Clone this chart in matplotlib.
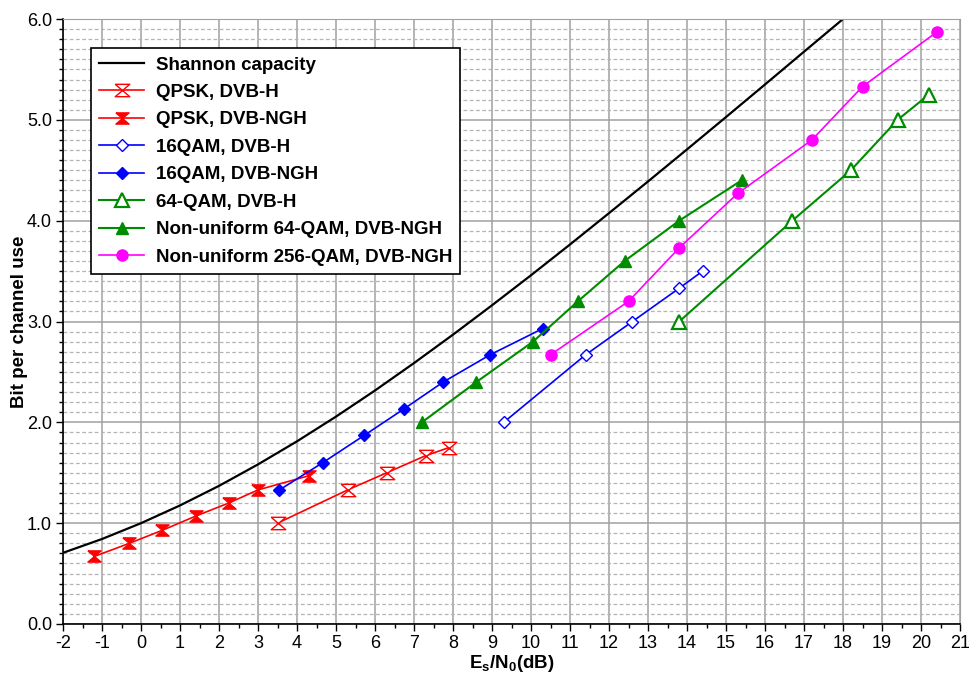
import numpy as np
import matplotlib
matplotlib.use('Agg')
import matplotlib.pyplot as plt
from matplotlib.ticker import MultipleLocator

plt.rcParams['font.family'] = ['Liberation Sans', 'DejaVu Sans']
plt.rcParams['mathtext.fontset'] = 'custom'
plt.rcParams['mathtext.rm'] = 'Liberation Sans'
plt.rcParams['mathtext.bf'] = 'Liberation Sans:bold'
plt.rcParams['axes.unicode_minus'] = False

# Shannon capacity, bit per channel use vs Es/N0 (dB)
shannon_snr = [-2, -1, 0, 1, 2, 3, 4, 5, 6, 7, 8, 9, 10, 11, 12, 13, 14, 15, 16, 17, 18]
shannon_cap = [0.706, 0.843, 1.0, 1.176, 1.370, 1.583, 1.812, 2.057, 2.316, 2.588,
               2.870, 3.161, 3.459, 3.764, 4.075, 4.389, 4.707, 5.028, 5.351, 5.676, 6.0]

qpsk_h_snr = [3.5, 5.3, 6.3, 7.3, 7.9]
qpsk_h_cap = [1.0, 1.33, 1.5, 1.67, 1.75]

qpsk_ngh_snr = [-1.2, -0.3, 0.55, 1.4, 2.25, 3.0, 4.3]
qpsk_ngh_cap = [0.67, 0.80, 0.93, 1.07, 1.20, 1.33, 1.47]

qam16_h_snr = [9.3, 11.4, 12.6, 13.8, 14.4]
qam16_h_cap = [2.0, 2.67, 3.0, 3.33, 3.5]

qam16_ngh_snr = [3.55, 4.66, 5.72, 6.73, 7.75, 8.95, 10.3]
qam16_ngh_cap = [1.33, 1.6, 1.87, 2.13, 2.4, 2.67, 2.93]

qam64_h_snr = [13.8, 16.7, 18.2, 19.4, 20.2]
qam64_h_cap = [3.0, 4.0, 4.5, 5.0, 5.25]

nuqam64_ngh_snr = [7.2, 8.6, 10.05, 11.2, 12.4, 13.8, 15.4]
nuqam64_ngh_cap = [2.0, 2.4, 2.8, 3.2, 3.6, 4.0, 4.4]

nuqam256_ngh_snr = [10.5, 12.5, 13.8, 15.3, 17.2, 18.5, 20.4]
nuqam256_ngh_cap = [2.67, 3.2, 3.73, 4.27, 4.8, 5.33, 5.87]

# hourglass marker: two triangles meeting at the centre
hourglass = [(-1, 0.85), (1, 0.85), (-1, -0.85), (1, -0.85), (-1, 0.85)]

red = '#ff0000'
blue = '#0000ff'
green = '#008c00'
magenta = '#ff00ff'

fig = plt.figure(figsize=(9.70, 6.77), dpi=100)
ax = fig.add_axes([0.065, 0.0783, 0.9247, 0.8936])

ax.plot(shannon_snr, shannon_cap, color='black', lw=1.6, label='Shannon capacity')
ax.plot(qpsk_h_snr, qpsk_h_cap, color=red, lw=1.2, marker=hourglass, ms=10.5,
        mfc='white', mec=red, mew=1.0, label='QPSK, DVB-H')
ax.plot(qpsk_ngh_snr, qpsk_ngh_cap, color=red, lw=1.2, marker=hourglass, ms=9.5,
        mfc=red, mec=red, label='QPSK, DVB-NGH')
ax.plot(qam16_h_snr, qam16_h_cap, color=blue, lw=1.2, marker='D', ms=6,
        mfc='white', mec=blue, mew=1.0, label='16QAM, DVB-H')
ax.plot(qam16_ngh_snr, qam16_ngh_cap, color=blue, lw=1.2, marker='D', ms=6.5,
        mfc=blue, mec=blue, label='16QAM, DVB-NGH')
ax.plot(qam64_h_snr, qam64_h_cap, color=green, lw=1.5, marker='^', ms=10,
        mfc='white', mec=green, mew=1.6, label='64-QAM, DVB-H')
ax.plot(nuqam64_ngh_snr, nuqam64_ngh_cap, color=green, lw=1.5, marker='^', ms=9,
        mfc=green, mec=green, label='Non-uniform 64-QAM, DVB-NGH')
ax.plot(nuqam256_ngh_snr, nuqam256_ngh_cap, color=magenta, lw=1.2, marker='o', ms=8,
        mfc=magenta, mec=magenta, label='Non-uniform 256-QAM, DVB-NGH')

ax.set_xlim(-2, 21)
ax.set_ylim(0, 6)
ax.xaxis.set_major_locator(MultipleLocator(1))
ax.xaxis.set_minor_locator(MultipleLocator(0.5))
ax.yaxis.set_major_locator(MultipleLocator(1))
ax.yaxis.set_minor_locator(MultipleLocator(0.1))
ax.set_yticklabels(['%.1f' % v for v in ax.get_yticks()])

ax.grid(which='major', color='#a0a0a0', lw=1.1, ls='-')
ax.grid(which='minor', axis='y', color='#b4b4b4', lw=0.9, ls=(0, (3, 2)))
ax.set_axisbelow(True)

ax.tick_params(which='major', direction='out', length=5, width=1, labelsize=13, pad=3)
ax.tick_params(which='minor', direction='out', length=3, width=1)
for s in ['top', 'right']:
    ax.spines[s].set_color('#a0a0a0')
for s in ['left', 'bottom']:
    ax.spines[s].set_linewidth(1.2)

ax.set_xlabel(r'$\mathbf{E_s/N_0(dB)}$', fontsize=13.5, labelpad=1)
ax.set_ylabel('Bit per channel use', fontsize=13.5, fontweight='bold', labelpad=-1)

leg = ax.legend(loc='upper left', bbox_to_anchor=(0.031, 0.952), borderaxespad=0,
                fancybox=False, framealpha=1, edgecolor='black', borderpad=0.45,
                labelspacing=0.55, handlelength=2.4, handletextpad=0.6,
                prop={'weight': 'bold', 'size': 13.5})
leg.get_frame().set_linewidth(1.2)

plt.savefig('out.png', dpi=100)
